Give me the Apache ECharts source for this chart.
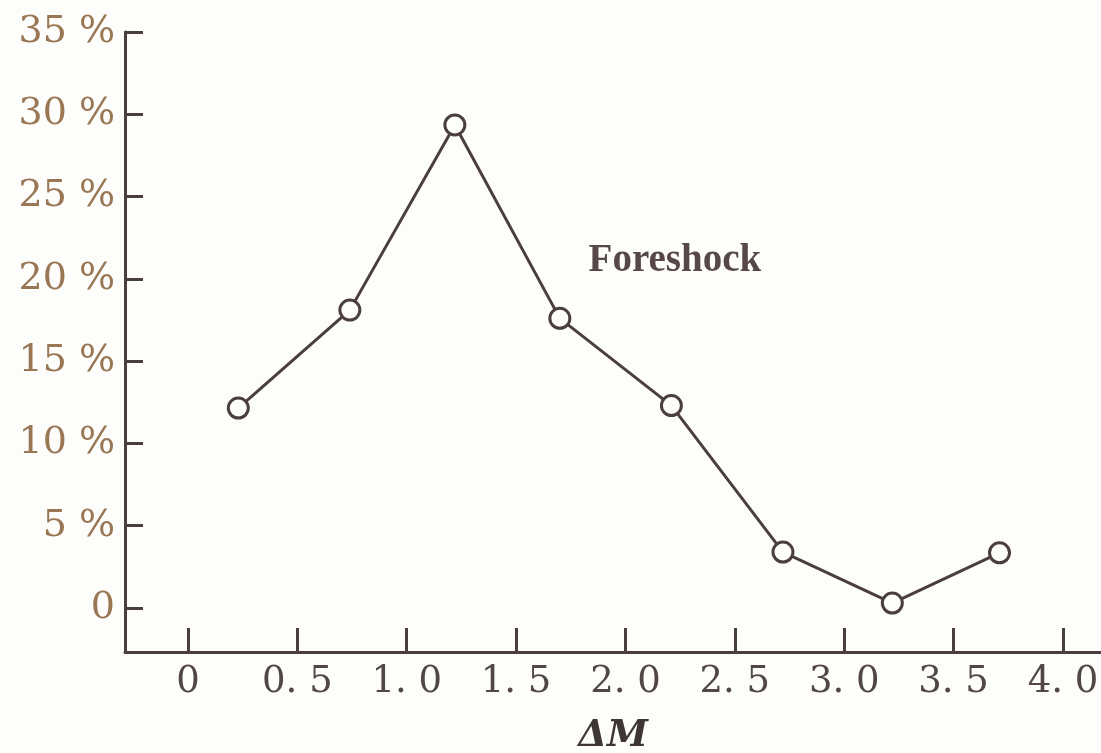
<!DOCTYPE html>
<html>
<head>
<meta charset="utf-8">
<script src="https://cdn.jsdelivr.net/npm/echarts@6/dist/echarts.min.js"></script>
<style>
  html, body { margin: 0; padding: 0; background: #fdfdfb; }
  #chart { width: 1101px; height: 753px; }
</style>
</head>
<body>
<div id="chart"></div>
<script>
// Magnitude difference bins (ΔM) and share of foreshock cases (%)
const deltaM = [0.23, 0.74, 1.22, 1.70, 2.21, 2.72, 3.22, 3.71];
const foreshockPct = [12.15, 18.1, 29.35, 17.6, 12.3, 3.4, 0.3, 3.35];

// Axis ticks and their printed labels
const xTicks = [0, 0.5, 1.0, 1.5, 2.0, 2.5, 3.0, 3.5, 4.0];
const xTickLabels = ['0', '0. 5', '1. 0', '1. 5', '2. 0', '2. 5', '3. 0', '3. 5', '4. 0'];
const yTicks = [0, 5, 10, 15, 20, 25, 30, 35];
const yTickLabels = ['0', '5 %', '10 %', '15 %', '20 %', '25 %', '30 %', '35 %'];

const seriesName = 'Foreshock';
const xAxisName = 'ΔM';

const ink = '#4a3e3e';
const chart = echarts.init(document.getElementById('chart'), null, { renderer: 'canvas' });

chart.setOption({
  backgroundColor: '#fdfdfb',
  animation: false,
  grid: {
    left: 125, right: 0, top: 32, bottom: 101,
    containLabel: false,
    outerBoundsMode: 'none'
  },
  xAxis: {
    type: 'value',
    min: -0.288,
    max: 4.174,
    name: xAxisName,
    nameLocation: 'middle',
    nameGap: 66,
    nameTextStyle: {
      fontFamily: 'DejaVu Serif',
      fontStyle: 'italic',
      fontWeight: 'bold',
      fontSize: 37,
      color: '#3e3636'
    },
    splitLine: { show: false },
    axisLine: { show: true, onZero: false, lineStyle: { color: ink, width: 3 } },
    axisTick: {
      show: true,
      inside: true,
      length: 24,
      customValues: xTicks,
      lineStyle: { color: ink, width: 3 }
    },
    axisLabel: {
      customValues: xTicks,
      margin: 12,
      fontFamily: 'DejaVu Serif',
      fontSize: 37,
      color: '#514846',
      formatter: v => xTickLabels[xTicks.findIndex(t => Math.abs(t - v) < 1e-6)] ?? ''
    }
  },
  yAxis: {
    type: 'value',
    min: -2.674,
    max: 35,
    splitLine: { show: false },
    axisLine: { show: true, onZero: false, lineStyle: { color: ink, width: 3 } },
    axisTick: {
      show: true,
      inside: true,
      length: 18,
      customValues: yTicks,
      lineStyle: { color: ink, width: 3 }
    },
    axisLabel: {
      customValues: yTicks,
      margin: 10,
      padding: [10, 0, 0, 0],
      fontFamily: 'DejaVu Serif',
      fontSize: 38,
      color: '#9a7754',
      formatter: v => yTickLabels[yTicks.findIndex(t => Math.abs(t - v) < 1e-6)] ?? ''
    }
  },
  series: [{
    name: seriesName,
    type: 'line',
    data: deltaM.map((x, i) => [x, foreshockPct[i]]),
    symbol: 'circle',
    symbolSize: 20,
    showAllSymbol: true,
    lineStyle: { color: ink, width: 3 },
    itemStyle: { color: '#fdfdfb', borderColor: ink, borderWidth: 3 },
    z: 3,
    markPoint: {
      symbol: 'circle',
      symbolSize: 0,
      data: [{ coord: [2.226, 21.1], value: seriesName }],
      label: {
        show: true,
        position: 'inside',
        formatter: seriesName,
        fontFamily: 'Liberation Serif',
        fontWeight: 'bold',
        fontSize: 39,
        color: '#574848'
      }
    }
  }]
});
</script>
</body>
</html>
